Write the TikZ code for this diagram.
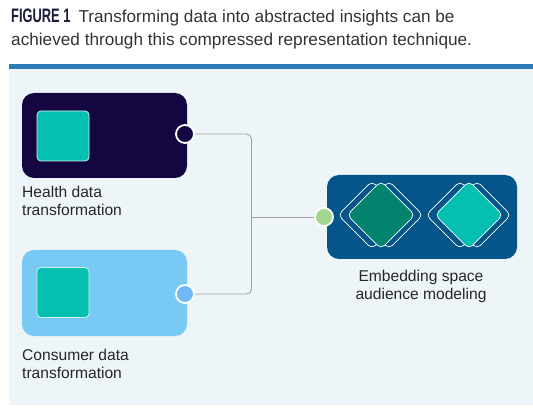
\documentclass[tikz,border=0pt]{standalone}
\usepackage{fontspec}
\setmainfont{Liberation Sans}
\newfontfamily\figfont{Liberation Sans}[FakeStretch=0.66]
\usepackage{tikz}
\usetikzlibrary{positioning,calc}

\definecolor{barblue}{HTML}{2B7BB4}
\definecolor{panel}{HTML}{EEF5F9}
\definecolor{healthc}{HTML}{140640}
\definecolor{consumerc}{HTML}{79C9F5}
\definecolor{tealc}{HTML}{05BFB1}
\definecolor{embedc}{HTML}{045589}
\definecolor{greenc}{HTML}{03836D}
\definecolor{portgreen}{HTML}{A2D68F}
\definecolor{wire}{HTML}{A0A0A0}
\definecolor{captxt}{HTML}{333333}
\definecolor{fignavy}{HTML}{1B1D3A}

\tikzset{
	card/.style={rounded corners=12pt, inner sep=0pt},
	tile/.style={rounded corners=4pt, draw=white!80!tealc, line width=0.8pt, fill=tealc, inner sep=0pt, minimum width=52pt, minimum height=50pt},
	port/.style={circle, draw=white, line width=1.8pt, minimum size=18pt, inner sep=0pt},
	gem/.style={rotate=45, rounded corners=5pt, draw=white, line width=0.7pt, minimum size=48pt, inner sep=0pt},
	conn/.style={draw=wire, line width=0.9pt},
	lbl/.style={font=\fontsize{15.6}{17.5}\selectfont, text=black!85, align=left, inner sep=0pt}
}

\begin{document}
\begin{tikzpicture}[x=1pt,y=-1pt]
		\useasboundingbox (0,0) rectangle (533,414);
		\fill[panel] (9,69) rectangle (533,405);
		\fill[barblue] (9,64) rectangle (533,69.5);
		\node[anchor=north west, inner sep=0pt, align=left, text=captxt, font=\fontsize{17.2}{23}\selectfont] (cap) at (11,9) {{\figfont\fontsize{19.5}{23}\selectfont\bfseries\color{fignavy}FIGURE 1}\hspace{8pt}Transforming data into abstracted insights can be\\achieved through this compressed representation technique.};
		% left side
		\node[card, fill=healthc, minimum width=165pt, minimum height=85pt] (health) at (104.5,135.5) {};
		\node[tile] (htile) at (63,136) {};
		\node[port, fill=healthc] (hport) at (185,134) {};
		\node[lbl, anchor=north west] (hlbl) at (22,186) {Health data\\transformation};
		\node[card, fill=consumerc, minimum width=165pt, minimum height=86pt] (consumer) at (104.5,293) {};
		\node[tile] (ctile) at (63,292.5) {};
		\node[port, fill=consumerc!92!blue] (cport) at (185,294) {};
		\node[lbl, anchor=north west] (clbl) at (22,349) {Consumer data\\transformation};
		% right side
		\node[card, fill=embedc, minimum width=190pt, minimum height=84pt] (embed) at (422,217) {};
		\foreach \cx/\col [count=\i] in {381/greenc, 469/tealc} {
			\node[gem] (gl\i) at (\cx-9,215) {};
			\node[gem] (gr\i) at (\cx+8,215) {};
			\node[gem, fill=\col] (gem\i) at (\cx,215) {};
		}
		\node[port, fill=portgreen] (eport) at (324,217) {};
		\node[lbl, align=center, anchor=north] (elbl) at (421,270) {Embedding space\\audience modeling};
		% wires
		\coordinate (jn) at (251.5,217);
		\draw[conn, rounded corners=5pt] (hport.east) -| (jn) |- (cport.east);
		\draw[conn] (jn) -- (eport.west);
\end{tikzpicture}
\end{document}
